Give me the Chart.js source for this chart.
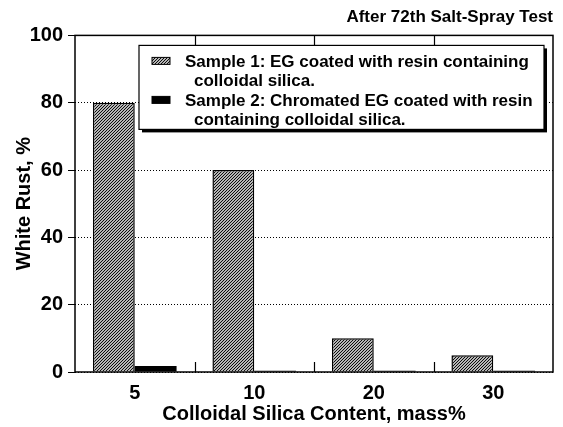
<!DOCTYPE html>
<html>
<head>
<meta charset="utf-8">
<script src="https://cdn.jsdelivr.net/npm/chart.js@4/dist/chart.umd.min.js"></script>
<style>
  html, body { margin: 0; padding: 0; background: #fff; }
</style>
</head>
<body>
<canvas id="rust" width="563" height="427"></canvas>
<script>
var categories = ["5", "10", "20", "30"];
var sample1 = [80, 60, 10, 5];
var sample2 = [1.8, 0.4, 0.4, 0.4];
var sample1Label = ["Sample 1: EG coated with resin containing", "colloidal silica."];
var sample2Label = ["Sample 2: Chromated EG coated with resin", "containing colloidal silica."];
var titleText = "After 72th Salt-Spray Test";

var FONT = "'Liberation Sans', Arial, Helvetica, sans-serif";

// diagonal hatch for sample 1
function makeHatch() {
	var c = document.createElement("canvas");
	c.width = 3; c.height = 3;
	var g = c.getContext("2d");
	g.fillStyle = "#fff";
	g.fillRect(0, 0, 3, 3);
	g.strokeStyle = "#000";
	g.lineWidth = 1.1;
	g.beginPath();
	g.moveTo(0, 3); g.lineTo(3, 0);
	g.moveTo(-1, 1); g.lineTo(1, -1);
	g.moveTo(2, 4); g.lineTo(4, 2);
	g.stroke();
	return g.createPattern(c, "repeat");
}
var hatch = makeHatch();

var framePlugin = {
	id: "frame",
	afterDatasetsDraw: function(chart) {
		var a = chart.chartArea, ctx = chart.ctx, x = chart.scales.x;
		ctx.save();
		ctx.setLineDash([]);
		ctx.strokeStyle = "#000";
		ctx.lineWidth = 1.5;
		ctx.strokeRect(a.left, a.top, a.right - a.left, a.bottom - a.top);
		ctx.lineWidth = 1.2;
		ctx.beginPath();
		for (var i = 1; i < categories.length; i++) {
			var px = Math.round((x.getPixelForValue(i - 1) + x.getPixelForValue(i)) / 2) + 0.5;
			ctx.moveTo(px, a.bottom); ctx.lineTo(px, a.bottom - 10);
			ctx.moveTo(px, a.top); ctx.lineTo(px, a.top + 10);
		}
		ctx.stroke();
		ctx.restore();
	}
};

var boxLegend = {
	id: "boxLegend",
	afterDraw: function(chart) {
		var a = chart.chartArea, ctx = chart.ctx;
		var l = a.left + 64, t = a.top + 10, r = a.right - 9, b = t + 84;
		ctx.save();
		// shadow
		ctx.fillStyle = "#000";
		ctx.fillRect(l + 3, t + 3, r - l, b - t);
		ctx.fillStyle = "#fff";
		ctx.fillRect(l, t, r - l, b - t);
		ctx.strokeStyle = "#000";
		ctx.lineWidth = 1.2;
		ctx.strokeRect(l, t, r - l, b - t);

		ctx.font = "bold 17px " + FONT;
		ctx.fillStyle = "#000";
		ctx.textBaseline = "alphabetic";
		var sets = chart.data.datasets;
		var lines = [sample1Label, sample2Label];
		for (var k = 0; k < sets.length; k++) {
			var by = t + 22 + k * 39;
			ctx.fillStyle = sets[k].backgroundColor;
			ctx.fillRect(l + 13, by - 10, 18, 7);
			ctx.strokeStyle = "#000";
			ctx.lineWidth = 1;
			ctx.strokeRect(l + 13, by - 10, 18, 7);
			ctx.fillStyle = "#000";
			ctx.fillText(lines[k][0], l + 46, by, r - l - 50);
			ctx.fillText(lines[k][1], l + 55, by + 18.5);
		}
		ctx.restore();
	}
};

var chart = new Chart(document.getElementById("rust"), {
	type: "bar",
	data: {
		labels: categories,
		datasets: [
			{
				label: sample1Label.join(" "),
				data: sample1,
				backgroundColor: hatch,
				borderColor: "#000",
				borderWidth: 1.5,
				categoryPercentage: 0.7,
				barPercentage: 1.0
			},
			{
				label: sample2Label.join(" "),
				data: sample2,
				backgroundColor: "#000",
				borderColor: "#000",
				borderWidth: 0,
				categoryPercentage: 0.7,
				barPercentage: 1.0
			}
		]
	},
	options: {
		responsive: false,
		animation: false,
		layout: { padding: { left: 0, right: 10, top: 0, bottom: 0 } },
		plugins: {
			legend: { display: false },
			tooltip: { enabled: false },
			title: {
				display: true,
				text: titleText,
				align: "end",
				color: "#000",
				font: { family: FONT, size: 17, weight: "bold" },
				padding: { top: 7, bottom: 8 }
			}
		},
		scales: {
			x: {
				grid: { display: false, drawTicks: false },
				border: { display: false },
				ticks: { color: "#000", padding: 9, font: { family: FONT, size: 20, weight: "bold" } },
				title: {
					display: true,
					text: "Colloidal Silica Content, mass%",
					color: "#000",
					font: { family: FONT, size: 20, weight: "bold" },
					padding: { top: 0, bottom: 1 }
				},
				afterFit: function(s) { s.height = 55; }
			},
			y: {
				min: 0,
				max: 100,
				ticks: { stepSize: 20, color: "#000", padding: 5, font: { family: FONT, size: 20, weight: "bold" } },
				grid: { color: "#000", lineWidth: 1, tickLength: 7, tickBorderDash: [] },
				border: { display: false, dash: [1, 2] },
				title: {
					display: true,
					text: "White Rust, %",
					color: "#000",
					font: { family: FONT, size: 20, weight: "bold" },
					padding: { top: 12, bottom: 0 }
				},
				afterFit: function(s) { s.width = 75; }
			}
		}
	},
	plugins: [framePlugin, boxLegend]
});
</script>
</body>
</html>
